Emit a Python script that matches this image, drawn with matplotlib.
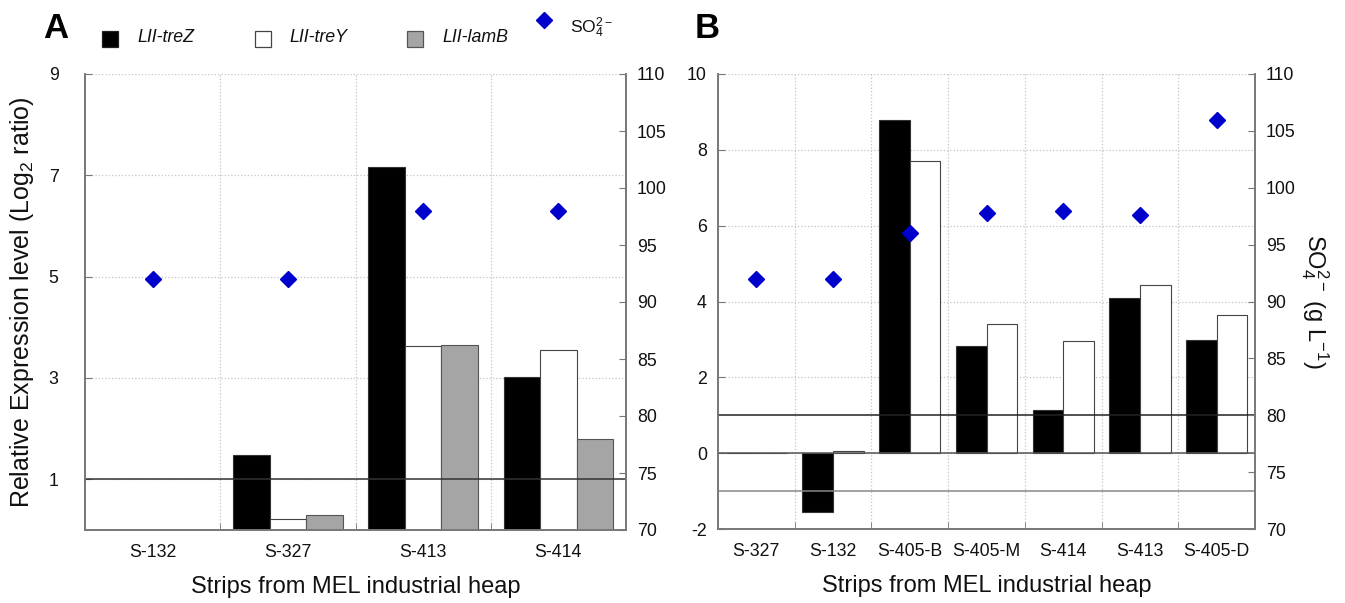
import matplotlib
matplotlib.use('Agg')
import matplotlib.pyplot as plt
from matplotlib.patches import Rectangle
from matplotlib.lines import Line2D
import numpy as np

plt.rcParams['font.family'] = ['Liberation Sans', 'DejaVu Sans']
plt.rcParams['mathtext.fontset'] = 'custom'
plt.rcParams['mathtext.rm'] = 'Liberation Sans'
plt.rcParams['mathtext.it'] = 'Liberation Sans:italic'
plt.rcParams['mathtext.bf'] = 'Liberation Sans:bold'
plt.rcParams['axes.unicode_minus'] = False

# 資料 (A)
strips_a = ['S-132', 'S-327', 'S-413', 'S-414']
trez_a = [0, 1.48, 7.17, 3.02]
trey_a = [0, 0.22, 3.63, 3.55]
lamb_a = [0, 0.30, 3.65, 1.79]
so4_a = [92, 92, 98, 98]

# 資料 (B)
strips_b = ['S-327', 'S-132', 'S-405-B', 'S-405-M', 'S-414', 'S-413', 'S-405-D']
trez_b = [0, -1.56, 8.80, 2.82, 1.13, 4.10, 2.99]
trey_b = [0, 0.05, 7.70, 3.40, 2.97, 4.44, 3.65]
so4_b = [92, 92, 96, 97.8, 98, 97.6, 106]

# 顏色
SPINE = '#777777'
GRID = '#c4c4c4'
GRAY = '#a5a5a5'
BLUE = '#0000cc'
TXT = '#111111'

W, H = 1345, 603
fig = plt.figure(figsize=(W / 100, H / 100), dpi=100)
fig.patch.set_facecolor('white')


def fx(px):
    return px / W


def fy(py):
    return 1 - py / H


def style(ax, ax2, n, left_pad):
    ax.set_xlim(-0.5, n - 0.5)
    ax.set_axisbelow(True)
    ax.set_xticks(np.arange(n))
    ax.set_xticks(np.arange(0.5, n - 1), minor=True)
    ax.tick_params(axis='x', which='major', length=0, pad=10, labelsize=12.8,
                   labelcolor=TXT)
    ax.tick_params(axis='x', which='minor', direction='in', length=5, color=SPINE)
    ax.tick_params(axis='y', direction='in', length=5, color=SPINE,
                   labelsize=12.8, pad=left_pad, labelcolor=TXT)
    ax.grid(axis='x', which='minor', ls=':', color=GRID, lw=0.9)
    ax.grid(axis='y', which='major', ls=':', color=GRID, lw=0.9)
    ax2.set_ylim(70, 110)
    ax2.set_yticks(np.arange(70, 111, 5))
    ax2.tick_params(axis='y', direction='in', length=5, color=SPINE,
                    labelsize=12.8, pad=8, labelcolor=TXT)
    for a in (ax, ax2):
        a.spines['top'].set_visible(False)
        for s in ('left', 'right', 'bottom'):
            a.spines[s].set_color(SPINE)
            a.spines[s].set_linewidth(1.2)


# ---- A ----
ax_a = fig.add_axes([fx(85), 73 / H, fx(541), 456 / H])
ax_a2 = ax_a.twinx()
x = np.arange(len(strips_a))
w = 0.27
ax_a.bar(x - w, trez_a, w, color='black', edgecolor='#333333', lw=0.8, zorder=2)
ax_a.bar(x, trey_a, w, color='white', edgecolor='#444444', lw=0.8, zorder=2)
ax_a.bar(x + w, lamb_a, w, color=GRAY, edgecolor='#555555', lw=0.8, zorder=2)
ax_a.axhline(1, color='#333333', lw=1.1, zorder=3)
ax_a.set_ylim(0, 9)
ax_a.set_yticks([1, 3, 5, 7, 9])
ax_a.set_xticklabels(strips_a)
ax_a2.plot(x, so4_a, 'D', color=BLUE, ms=8.5, ls='none')
style(ax_a, ax_a2, len(strips_a), 19)
ax_a.set_xlabel('Strips from MEL industrial heap', fontsize=17, labelpad=11,
                color=TXT)
ax_a.set_ylabel('Relative Expression level (Log$_2$ ratio)', fontsize=18,
                labelpad=9, color=TXT)

# ---- B ----
ax_b = fig.add_axes([fx(718), 74 / H, fx(537), 455 / H])
ax_b2 = ax_b.twinx()
xb = np.arange(len(strips_b))
wb = 0.40
ax_b.bar(xb - wb / 2, trez_b, wb, color='black', edgecolor='#333333', lw=0.8, zorder=2)
ax_b.bar(xb + wb / 2, trey_b, wb, color='white', edgecolor='#444444', lw=0.8, zorder=2)
ax_b.axhline(1, color='#222222', lw=1.1, zorder=3)
ax_b.axhline(0, color='#555555', lw=1.1, zorder=3)
ax_b.axhline(-1, color='#888888', lw=1.1, zorder=3)
ax_b.set_ylim(-2, 10)
ax_b.set_yticks(np.arange(-2, 11, 2))
ax_b.set_xticklabels(strips_b)
ax_b2.plot(xb, so4_b, 'D', color=BLUE, ms=8.5, ls='none')
style(ax_b, ax_b2, len(strips_b), 8)
ax_b.set_xlabel('Strips from MEL industrial heap', fontsize=17, labelpad=11,
                color=TXT)
ax_b2.set_ylabel('SO$_4^{2-}$ (g L$^{-1}$)', fontsize=17, rotation=270,
                 va='bottom', labelpad=2, color=TXT)

# ---- 面板字母與圖例 ----
fig.text(fx(56), fy(29), 'A', fontsize=25, fontweight='bold', ha='center', va='center')
fig.text(fx(707), fy(28), 'B', fontsize=25, fontweight='bold', ha='center', va='center')

sq = 16.5
legend_items = [
    (110, 'black', '#222222', 'LII-treZ', 137),
    (263, 'white', '#444444', 'LII-treY', 289),
    (415, GRAY, '#555555', 'LII-lamB', 442),
]
for cx, fc, ec, txt, tx in legend_items:
    fig.add_artist(Rectangle((fx(cx - sq / 2), fy(39 + sq / 2)), sq / W, sq / H,
                             facecolor=fc, edgecolor=ec, lw=0.9,
                             transform=fig.transFigure))
    fig.text(fx(tx), fy(38), txt, style='italic', fontsize=12.8,
             ha='left', va='center', color=TXT)

fig.add_artist(Line2D([fx(544)], [fy(20)], marker='D', color=BLUE, ms=8.5,
                      ls='none', transform=fig.transFigure))
fig.text(fx(570), fy(28), 'SO$_4^{2-}$', fontsize=12.5, ha='left', va='center',
         color=TXT)

fig.savefig('out.png', dpi=100, facecolor='white')
